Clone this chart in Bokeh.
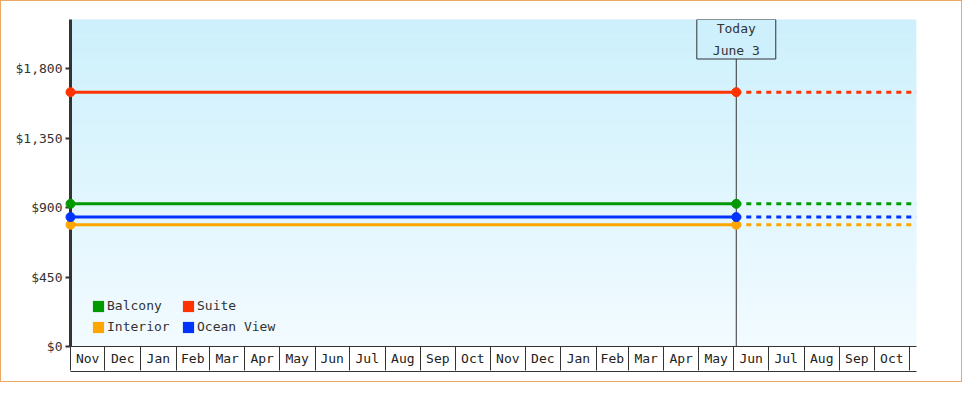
import pandas as pd
from bokeh.plotting import figure
from bokeh.models import (Range1d, FixedTicker, NumeralTickFormatter, CustomJSTickFormatter,
                          LinearAxis, Span, Label, Legend, LegendItem, BoxAnnotation)
from bokeh.embed import file_html
from bokeh.resources import INLINE

# ---------------- data ----------------
series_names = ["Balcony", "Suite", "Interior", "Ocean View"]
series_prices = [925, 1649, 789, 839]
series_colors = ["#009a00", "#ff3300", "#ffa500", "#0033ff"]

start_date = "2023-11-01"
today_date = "2025-06-03"
end_date = "2025-11-07"
today_text = "Today\nJune 3"

month_labels = ["Nov", "Dec", "Jan", "Feb", "Mar", "Apr", "May", "Jun", "Jul", "Aug", "Sep", "Oct",
                "Nov", "Dec", "Jan", "Feb", "Mar", "Apr", "May", "Jun", "Jul", "Aug", "Sep", "Oct"]
month_bounds = [str(d.date()) for d in pd.date_range("2023-11-01", "2025-11-01", freq="MS")]

y_ticks = [0, 450, 900, 1350, 1800]
y_max = 2120

# ---------------- helpers ----------------
def ms(s):
    return pd.Timestamp(s).value / 1e6

FONT = "DejaVu Sans Mono"
TXT = "#333333"
BG_TOP = (205, 240, 252)
BG_BOT = (242, 251, 255)

def rgb(c):
    return "#%02x%02x%02x" % tuple(int(round(v)) for v in c)

bound_ms = [ms(d) for d in month_bounds]
mid_ms = [(a + b) / 2 for a, b in zip(bound_ms[:-1], bound_ms[1:])]

p = figure(width=962, height=382, x_axis_type="datetime",
           x_range=Range1d(ms(start_date), ms(end_date)),
           y_range=Range1d(0, y_max),
           output_backend="svg", toolbar_location=None,
           min_border_left=69, min_border_right=47, min_border_top=18, min_border_bottom=37,
           background_fill_color=rgb(BG_BOT), border_fill_color="white",
           outline_line_color=None)
p.styles = {"border": "1px solid #e9a965"}
p.xgrid.visible = False
p.ygrid.visible = False

# gradient background
n_bands = 40
for i in range(n_bands):
    f = (i + 0.5) / n_bands
    col = tuple(BG_BOT[k] + (BG_TOP[k] - BG_BOT[k]) * f for k in range(3))
    p.add_layout(BoxAnnotation(bottom=y_max * i / n_bands, top=y_max * (i + 1) / n_bands + 3,
                               fill_color=rgb(col), fill_alpha=1, line_color=None,
                               level="underlay"))

# today line
p.add_layout(Span(location=ms(today_date), dimension="height", line_color=TXT,
                  line_width=1, level="underlay"))

# x axis: month cells
xa = p.xaxis[0]
xa.ticker = FixedTicker(ticks=mid_ms, minor_ticks=bound_ms)
xa.formatter = CustomJSTickFormatter(args=dict(pos=mid_ms, labels=month_labels), code="""
let best = 0, d = Infinity;
for (let i = 0; i < pos.length; i++) { const e = Math.abs(pos[i] - tick); if (e < d) { d = e; best = i; } }
return labels[best];
""")
xa.axis_line_color = TXT
xa.axis_line_width = 1
xa.major_tick_out = 0
xa.major_tick_in = 0
xa.major_tick_line_color = None
xa.minor_tick_out = 24
xa.minor_tick_in = 0
xa.minor_tick_line_color = TXT
xa.minor_tick_line_width = 1
xa.major_label_standoff = -20
xa.major_label_text_font = FONT
xa.major_label_text_font_size = "13px"
xa.major_label_text_color = "#222222"

# invisible spacer axis (one hidden tick) that pushes the closing line down to the cell bottoms
spacer = LinearAxis(ticker=FixedTicker(ticks=[mid_ms[0]]), axis_line_color=None,
                    major_tick_out=3, major_tick_in=0, major_tick_line_color=None,
                    minor_tick_line_color=None, major_label_standoff=0,
                    major_label_text_font_size="0px",
                    formatter=CustomJSTickFormatter(code="return '';"))
bottom_line = LinearAxis(ticker=FixedTicker(ticks=[]), axis_line_color=TXT, major_tick_out=0,
                         major_tick_in=0, major_tick_line_color=None, minor_tick_line_color=None,
                         major_label_text_font_size="0px")
p.add_layout(spacer, "below")
p.add_layout(bottom_line, "below")

# y axis
ya = p.yaxis[0]
ya.ticker = FixedTicker(ticks=y_ticks)
ya.formatter = NumeralTickFormatter(format="$0,0")
ya.axis_line_color = TXT
ya.axis_line_width = 3
ya.major_tick_out = 5
ya.major_tick_in = 0
ya.major_tick_line_width = 2
ya.major_tick_line_color = TXT
ya.minor_tick_line_color = None
ya.major_label_standoff = 3
ya.major_label_text_font = FONT
ya.major_label_text_font_size = "13px"
ya.major_label_text_color = TXT

# series
legend_items = {}
for name, price, color in zip(series_names, series_prices, series_colors):
    p.line(x=[ms(start_date), ms(today_date)], y=[price, price], line_color=color, line_width=3)
    p.line(x=[ms(today_date), ms(end_date)], y=[price, price], line_color=color, line_width=3,
           line_dash="5 5")
    p.scatter(x=[ms(start_date), ms(today_date)], y=[price, price], size=9, marker="circle",
              fill_color=color, line_color=color, level="overlay")
    # zero-area box at the series' first point: only used for the square legend swatch
    r = p.quad(left=[ms(start_date)], right=[ms(start_date)], top=[price], bottom=[price],
               fill_color=color, line_color=None)
    legend_items[name] = r

# today label
p.add_layout(Label(x=ms(today_date), y=y_max, text=today_text, anchor="top_center",
                   text_align="center", text_baseline="top",
                   text_font=FONT, text_font_size="13px", text_color=TXT, text_line_height=1.5,
                   padding=dict(left=16, right=16, top=1, bottom=1),
                   border_line_color=TXT, border_line_width=1,
                   background_fill_color=rgb(BG_TOP), background_fill_alpha=1))

legend = Legend(items=[LegendItem(label=n, renderers=[legend_items[n]]) for n in series_names],
                location=(21, 12), orientation="horizontal", ncols=2, padding=0, margin=0,
                spacing=6, border_line_color=None, background_fill_alpha=0,
                glyph_width=14, glyph_height=14, label_standoff=2, label_height=14,
                label_width=68, label_text_font=FONT, label_text_font_size="13px",
                label_text_color=TXT)
p.add_layout(legend, "center")

open("out.html", "w").write(file_html(p, INLINE))
